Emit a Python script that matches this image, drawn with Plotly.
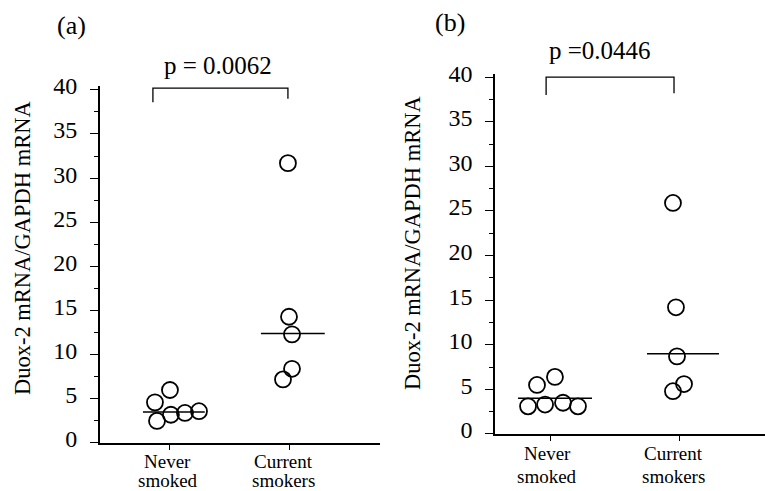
import plotly.graph_objects as go

# Duox-2 expression normalised to GAPDH, by smoking status
categories = [("Never", "smoked"), ("Current", "smokers")]
y_ticks = [0, 5, 10, 15, 20, 25, 30, 35, 40]

never_a = [4.6, 6.0, 2.5, 3.2, 3.4, 3.6]
current_a = [31.7, 14.3, 12.3, 8.4, 7.2]
median_a = [3.5, 12.4]
p_text_a = "p = 0.0062"

never_b = [5.5, 6.4, 3.1, 3.3, 3.5, 3.1]
current_b = [25.9, 14.2, 8.7, 5.6, 4.8]
median_b = [4.0, 9.0]
p_text_b = "p =0.0446"

# horizontal scatter of the dots around each category position
jit_never_a = [-0.125, 0.0, -0.108, 0.008, 0.125, 0.242]
jit_curr_a = [-0.017, -0.008, 0.017, 0.017, -0.058]
jit_never_b = [-0.10, 0.038, -0.169, -0.038, 0.10, 0.215]
jit_curr_b = [-0.054, -0.031, -0.023, 0.031, -0.054]

FONT = "Liberation Serif"
BLACK = "#000000"

fig = go.Figure()

panels = [
    dict(xa="x", ya="y", never=never_a, curr=current_a, jn=jit_never_a, jc=jit_curr_a,
         med=median_a, med_span=[(-0.225, 0.29), (-0.242, 0.29)],
         bracket=(-0.142, 0.983, 40.2, 38.6, 39.0),
         cat_x=[-0.02, 0.95], label_y=[(491 - 461) / 491, (491 - 480) / 491]),
    dict(xa="x2", ya="y2", never=never_b, curr=current_b, jn=jit_never_b, jc=jit_curr_b,
         med=median_b, med_span=[(-0.246, 0.323), (-0.254, 0.30)],
         bracket=(-0.03, 0.954, 40.0, 38.0, 38.2),
         cat_x=[-0.02, 0.95], label_y=[(491 - 453) / 491, (491 - 476) / 491]),
]

marker = dict(symbol="circle-open", size=16, color=BLACK, line=dict(width=1.8, color=BLACK))

for p in panels:
    fig.add_trace(go.Scatter(
        x=[0 + j for j in p["jn"]], y=p["never"], mode="markers", marker=marker,
        xaxis=p["xa"], yaxis=p["ya"], showlegend=False, cliponaxis=False))
    fig.add_trace(go.Scatter(
        x=[1 + j for j in p["jc"]], y=p["curr"], mode="markers", marker=marker,
        xaxis=p["xa"], yaxis=p["ya"], showlegend=False, cliponaxis=False))
    # median bars
    for i, (m, (l, r)) in enumerate(zip(p["med"], p["med_span"])):
        fig.add_shape(type="line", xref=p["xa"], yref=p["ya"],
                      x0=i + l, x1=i + r, y0=m, y1=m,
                      line=dict(color=BLACK, width=1.5))
    # significance bracket
    bl, br, top, lb, rb = p["bracket"]
    fig.add_shape(type="path", xref=p["xa"], yref=p["ya"],
                  path=f"M {bl} {lb} L {bl} {top} L {br} {top} L {br} {rb}",
                  line=dict(color=BLACK, width=1.3))
    # two-line category labels below the x axis
    for cx, words in zip(p["cat_x"], categories):
        for word, ly in zip(words, p["label_y"]):
            fig.add_annotation(text=word, x=cx, y=ly, xref=p["xa"], yref="paper",
                               showarrow=False, xanchor="center", yanchor="middle",
                               font=dict(family=FONT, size=19, color=BLACK))

axis_common = dict(showline=True, linecolor=BLACK, linewidth=1.7, showgrid=False,
                   zeroline=False, ticks="outside", tickcolor=BLACK, tickwidth=1.3,
                   automargin=False)

xa_common = dict(axis_common, tickmode="array", tickvals=[0, 1], ticklen=5,
                 showticklabels=False)
ya_common = dict(axis_common, tickmode="array", tickvals=y_ticks, ticklen=8,
                 range=[0, 40.4], tickfont=dict(family=FONT, size=24, color=BLACK),
                 ticklabelstandoff=8, ticklabelshift=-4,
                 minor=dict(dtick=2.5, tick0=0, ticklen=4, ticks="outside",
                            tickcolor=BLACK, tickwidth=1.2, showgrid=False))

fig.update_layout(
    width=765, height=491,
    margin=dict(l=0, r=0, t=0, b=0),
    paper_bgcolor="white", plot_bgcolor="white",
    font=dict(family=FONT, color=BLACK),
    xaxis=dict(xa_common, domain=[0.1307, 0.4967], range=[-0.583, 1.75], anchor="y"),
    yaxis=dict(ya_common, domain=[0.0978, 0.8242], anchor="x"),
    xaxis2=dict(xa_common, domain=[0.6471, 1.0], range=[-0.423, 1.654], anchor="y2"),
    yaxis2=dict(ya_common, domain=[0.1161, 0.8501], anchor="x2"),
)

ann = [
    dict(text="(a)", x=0.0941, y=0.949, size=26),
    dict(text="(b)", x=0.588, y=0.955, size=26),
    dict(text=p_text_a, x=0.285, y=0.866, size=25),
    dict(text=p_text_b, x=0.784, y=0.898, size=25),
]
for a in ann:
    fig.add_annotation(text=a["text"], x=a["x"], y=a["y"], xref="paper", yref="paper",
                       showarrow=False, xanchor="center", yanchor="middle",
                       font=dict(family=FONT, size=a["size"], color=BLACK))

for x, y in [(0.0288, 0.4949), (0.5386, 0.505)]:
    fig.add_annotation(text="Duox-2 mRNA/GAPDH mRNA", x=x, y=y, xref="paper", yref="paper",
                       showarrow=False, textangle=-90, xanchor="center", yanchor="middle",
                       font=dict(family=FONT, size=22.5, color=BLACK))

fig.write_html("out.html")
